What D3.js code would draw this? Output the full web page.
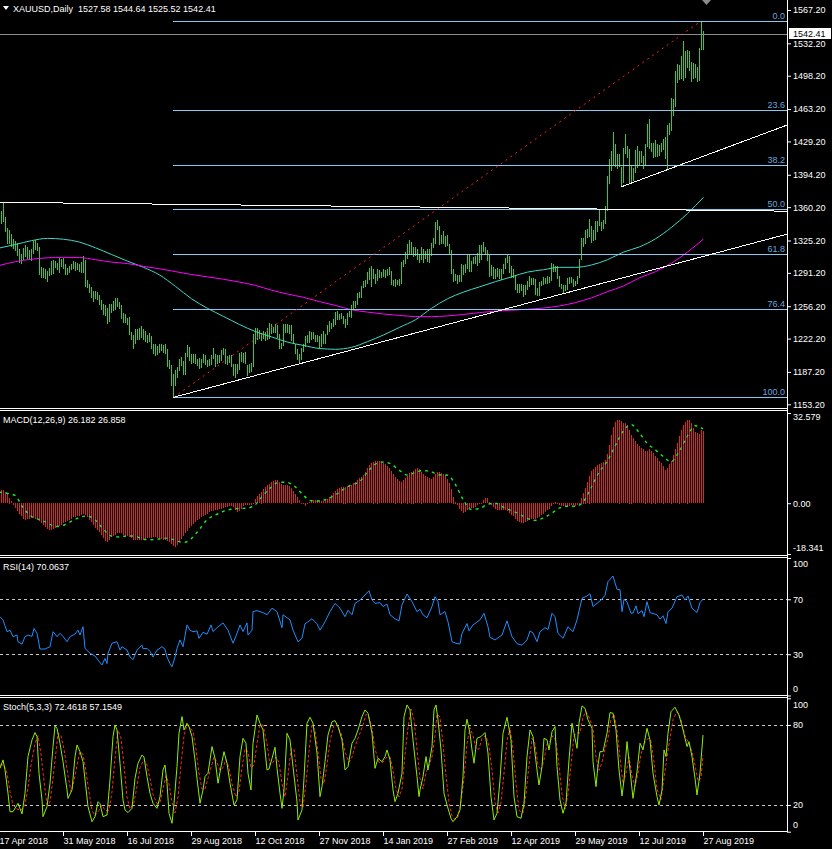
<!DOCTYPE html>
<html><head><meta charset="utf-8">
<script src="https://cdn.jsdelivr.net/npm/d3@7"></script>
<style>
body{margin:0;background:#000;}
svg{display:block;}
text{font-family:"Liberation Sans",Arial,sans-serif;font-size:9px;fill:#fff;white-space:pre;}
</style></head>
<body><svg id="c" width="832" height="849"></svg>
<script>
// ---------------- DATA ----------------
const symbolInfo = "XAUUSD,Daily";
const lastOHLC = [1527.58, 1544.64, 1525.52, 1542.41];
const bidPrice = 1542.41;

// daily highs / lows, bar 0 = 17 Apr 2018 ... bar 352 = 27 Aug 2019
const highs = [
1351,1356,1366,1350,
1338,1336,1332,1327,1325, 1323,1316,1311,1317,1320, 1318,1315,1316,1325,1326, 1323,1318,1297,1296,1295,
1293,1296,1304,1305,1304, 1302,1307,1306,1307,1301, 1296,1298,1301,1304,1303, 1302,1300,1303,1309,1305,
1284,1280,1276,1272,1272, 1271,1268,1263,1258,1257, 1254,1259,1258,1262,1265, 1265,1261,1257,1249,1248,
1244,1245,1229,1226,1232, 1232,1233,1235,1232,1230, 1226,1228,1225,1217,1216, 1214,1217,1217,1215,1216,
1211,1200,1194,1185,1189, 1192,1201,1203,1199,1207, 1215,1213,1206,1206,1206, 1201,1202,1201,1206,1205,
1200,1201,1205,1212,1206, 1205,1205,1210,1212,1211, 1204,1205,1205,1196,1196, 1195,1207,1208,1207,1208,
1194,1196,1197,1227,1233, 1233,1231,1228,1230,1229, 1233,1239,1238,1234,1237, 1236,1227,1218,1237,1237,
1237,1236,1236,1227,1217, 1211,1206,1212,1217,1225, 1226,1230,1229,1229,1226, 1226,1225,1227,1230,1227,
1236,1241,1239,1243,1250, 1251,1248,1249,1246,1243, 1249,1251,1257,1262,1262, 1270,1271,1277,1283,1284,
1292,1296,1298,
1295,1290,1295,1294,1292, 1295,1294,1295,1297,1293, 1284,1285,1284,1285,1303, 1305,1313,1321,1326,1324,
1318,1318,1316,1311,1318, 1316,1314,1316,1316,1323, 1328,1345,1347,1340,1331, 1335,1330,1331,1322,1315,
1295,1290,1289,1289,1300, 1299,1300,1311,1311,1304, 1308,1309,1312,1320,1320, 1324,1318,1315,1310,1299,
1297,1295,1296,1295,1295, 1301,1307,1310,1309,1298,
1295,1289,1279,1279,
1279,1278,1278,1283,1288, 1286,1286,1285,1275,1282, 1283,1287,1286,1288,1287, 1302,1300,1298,1298,1288,
1280,1278,1278,1286,1287, 1287,1285,1283,1288,1306, 1328,1328,1336,1337,1348, 1340,1336,1346,1346,1358,
1345,1347,1361,1393,1411, 1419,1439,1426,1416,1416, 1402,1422,1437,1424,1421, 1403,1401,1420,1424,1419,
1419,1414,1427,1447,1453, 1428,1428,1431,1427,1425, 1428,1432,1434,1446,1449, 1475,1474,1503,1510,1509,
1519,1535,1524,1525,1524, 1513,1512,1510,1507,1527,
1555.6,1544.64
];
const lows = [
1340,1343,1345,1334,
1322,1322,1318,1316,1314, 1309,1302,1301,1305,1308, 1306,1305,1304,1311,1315, 1314,1289,1286,1286,1285,
1282,1288,1289,1290,1296, 1294,1291,1297,1295,1289, 1289,1291,1294,1295,1293, 1294,1292,1291,1291,1276,
1275,1270,1265,1261,1264, 1263,1257,1252,1247,1246, 1238,1240,1249,1251,1252, 1255,1253,1243,1239,1239,
1236,1226,1221,1211,1217, 1221,1221,1223,1221,1219, 1218,1219,1211,1206,1204, 1205,1207,1209,1207,1206,
1192,1190,1172,1160.4,1172, 1181,1188,1193,1184,1184, 1203,1199,1196,1197,1196, 1193,1190,1191,1197,1194,
1192,1193,1194,1201,1192, 1195,1197,1199,1205,1195, 1194,1197,1192,1183,1181, 1185,1189,1198,1197,1196,
1183,1186,1187,1192,1216, 1221,1222,1220,1222,1220, 1221,1222,1227,1228,1228, 1223,1211,1211,1214,1228,
1228,1227,1220,1216,1206, 1200,1196,1200,1208,1213, 1218,1218,1221,1222,1219, 1219,1211,1213,1217,1217,
1226,1229,1232,1234,1236, 1242,1242,1243,1238,1233, 1236,1245,1244,1253,1254, 1257,1265,1265,1275,1276,
1279,1284,1276,
1285,1280,1283,1286,1286, 1287,1286,1288,1289,1278, 1277,1276,1278,1277,1280, 1297,1300,1306,1311,1310,
1308,1309,1305,1302,1305, 1302,1306,1303,1302,1309, 1317,1322,1336,1320,1321, 1322,1318,1319,1310,1290,
1282,1283,1280,1282,1282, 1289,1291,1295,1292,1292, 1300,1300,1298,1302,1305, 1313,1311,1304,1287,1288,
1285,1285,1287,1285,1284, 1290,1295,1302,1291,1286,
1286,1273,1270,1270,
1272,1266,1268,1273,1276, 1278,1278,1268,1267,1267, 1277,1278,1279,1280,1281, 1283,1292,1292,1285,1276,
1274,1270,1272,1273,1280, 1281,1276,1277,1279,1286, 1305,1318,1321,1328,1329, 1323,1325,1326,1334,1340,
1335,1337,1342,1356,1385, 1398,1403,1402,1400,1402, 1381.4,1386,1416,1412,1386, 1386,1388,1396,1401,1403,
1407,1400,1403,1423,1421, 1418,1412,1413,1413,1414, 1418,1420,1411,1400,1436, 1440,1456,1465,1491,1494,
1495,1493,1496,1506,1503, 1492,1495,1496,1492,1493,
1525,1525.52
];

// moving averages read every 8 bars (bars 0,8,...,352)
const maStep = 8;
const maFast = [1317.3,1321,1325,1327.4,1326.5,1323.5,1317.5,1310.5,1303.5,1297,1289,1277,1264,1254,1245.5,1237,1229.5,1224,1218.5,1215,1211.8,1211,1213,1219,1226,1234,1242,1254,1264,1271,1276.5,1282,1287,1292,1294.5,1297,1297,1299.5,1305,1313,1318.5,1327,1339,1353.5,1370.5];
const maSlow = [1299,1303,1305.5,1307,1307.5,1307.3,1305,1302.5,1301,1298,1295.5,1292.5,1289.5,1287,1284.5,1281.5,1278,1273,1269,1265.5,1261,1257,1252.5,1250,1248,1246.5,1245.3,1245.2,1246,1247.5,1249.5,1251,1252,1253,1254.3,1256.5,1260,1265,1271.5,1277.5,1286,1292.5,1301.5,1313,1326.8];

// Fibonacci retracement
const fibLevels = [0, 23.6, 38.2, 50, 61.8, 76.4, 100];
const fibHighBar = 351, fibHigh = 1555.6, fibLowBar = 87, fibLow = 1160.4;

// trend lines [bar, price] -> [bar, price]
const trendLines = [
  {a:[87,1160.4], b:[352,1308.4], left:false},
  {a:[311,1381.4], b:[352,1413.5], left:false},
  {a:[0,1365.3], b:[352,1357.0], left:true}
];

const priceTicks = [1567.20,1532.20,1498.20,1463.20,1429.20,1394.20,1360.20,1325.20,1291.20,1256.20,1222.20,1187.20,1153.20];

// MACD histogram, one value per bar
const macdMain = [
5.0,4.8,4.8,4.0,3.2,2.0,0.8,-0.6,-1.8,-2.8,
-3.8,-4.8,-5.6,-6.0,-5.8,-5.6,-5.5,-5.4,-5.6,-5.8,
-6.4,-7.2,-8.0,-8.8,-9.4,-9.6,-9.6,-9.4,-9.0,-8.7,
-8.4,-7.8,-7.2,-6.8,-6.4,-6.0,-5.6,-5.2,-5.0,-4.8,
-4.6,-4.3,-4.0,-4.4,-5.2,-6.0,-7.0,-8.0,-9.0,-9.8,
-10.6,-11.6,-12.6,-13.6,-14.2,-13.4,-12.4,-11.8,-11.4,-11.0,
-10.8,-11.0,-11.4,-11.8,-12.0,-12.4,-12.8,-13.2,-13.4,-13.4,
-13.3,-13.2,-13.2,-13.0,-12.8,-12.8,-12.6,-12.4,-12.4,-12.6,
-12.8,-13.0,-13.2,-13.4,-13.6,-14.0,-14.8,-15.6,-15.9,-15.0,
-14.0,-13.0,-12.0,-11.0,-10.0,-9.2,-8.4,-7.6,-6.8,-6.2,
-5.6,-5.0,-4.6,-4.2,-3.8,-3.4,-3.0,-2.8,-2.6,-2.4,
-2.2,-2.0,-1.8,-1.6,-1.4,-1.2,-1.2,-1.6,-2.6,-3.4,
-3.0,-2.0,-1.2,-0.8,-0.6,-0.6,-0.8,0.2,1.6,2.6,
3.4,4.2,5.0,5.8,6.4,7.0,7.6,8.0,8.4,8.4,
7.6,6.8,6.4,6.4,6.4,6.2,5.6,4.4,3.4,2.2,
1.0,0.2,-0.4,-1.0,-0.4,0.4,0.8,1.0,1.2,1.2,
1.0,0.8,0.8,1.0,1.6,2.2,2.8,3.6,4.4,5.0,
5.4,5.8,6.0,6.0,6.2,6.4,6.6,7.2,7.8,8.4,
9.0,9.4,10.2,11.2,12.6,13.8,14.6,15.0,15.2,15.4,
15.2,14.8,14.4,14.0,13.4,12.6,11.6,10.6,9.6,8.8,
8.0,7.8,8.4,9.2,10.0,10.8,11.4,11.8,12.2,12.6,
12.2,11.4,10.4,9.8,9.4,9.0,8.8,9.4,10.6,11.4,
11.2,10.8,10.4,10.2,8.6,7.2,5.0,2.4,0.6,-0.6,
-2.0,-3.0,-3.6,-3.2,-2.6,-2.0,-1.8,-1.8,-1.4,-0.8,
-0.4,0.2,1.2,1.8,1.8,0.6,-0.6,-1.4,-2.0,-2.4,
-2.6,-2.6,-2.4,-2.6,-3.0,-3.6,-4.2,-4.8,-5.6,-6.4,
-7.0,-7.2,-7.2,-7.0,-6.6,-6.2,-5.8,-5.6,-5.6,-5.4,
-5.0,-4.4,-3.8,-3.2,-2.6,-2.0,-1.2,-0.4,0.6,0.2,
-0.6,-1.0,-1.2,-1.2,-1.2,-1.0,-0.8,-0.8,-1.0,-0.8,
0.2,2.0,3.8,5.6,7.6,10.0,11.6,12.4,13.0,13.8,
14.2,14.4,14.8,15.6,17.8,21.0,24.6,27.4,29.2,30.0,
30.2,29.6,29.0,29.0,28.2,26.6,24.8,23.4,22.4,21.4,
20.6,20.0,19.6,19.0,18.8,19.4,19.0,18.2,17.2,16.2,
15.2,14.4,13.6,12.0,12.8,14.0,15.4,17.4,19.6,21.8,
24.4,26.4,28.2,29.4,30.2,30.0,28.8,27.2,25.8,25.2,
25.0,26.4,26.182
];
// MACD signal read every 4 bars
const sigStep = 4;
const macdSignal = [4.0,3.6,2.8,-1.6,-4.6,-5.9,-7.0,-8.4,-8.0,-6.6,
-5.2,-4.6,-6.0,-9.2,-11.8,-12.2,-11.8,-11.9,-13.0,-13.2,
-12.9,-12.6,-13.3,-14.2,-12.9,-9.6,-6.0,-4.3,-3.0,-2.2,
-1.9,-1.8,-0.6,2.8,5.7,7.6,7.5,6.0,3.0,0.9,
0.8,1.5,2.9,4.9,6.6,7.6,11.0,14.0,14.9,14.2,
12.0,10.2,11.0,11.8,11.4,10.2,10.2,7.0,1.4,-2.2,
-2.0,-0.5,0.0,-1.4,-2.6,-3.8,-5.5,-6.2,-5.4,-3.8,
-1.8,-1.1,-1.1,0.4,5.5,11.2,15.0,20.6,25.9,28.4,
25.6,21.7,19.4,16.9,15.0,18.6,24.0,28.0,26.858];
const macdTicks = [32.579, 0, -18.341];
const macdTickLabels = ["32.579","0.00","-18.341"];

// RSI(14) [bar, value]
const rsiPts = [[0.5,57.3],[2,55],[4,46.4],[5.5,47.5],[7,42.8],[9,44],[9.5,39.1],[11.5,37.4],[13,42.8],[14.5,44],[16.5,43],[17.5,48.8],[19,45.2],[20.5,33.8],[23,33.8],[25.5,35.5],[27,46.4],[29,42.8],[30.5,45.2],[32,43],[34,39.1],[35.5,42.8],[38,44.7],[39.5,47.5],[40.5,44],[42,50],[43,34.3],[45.5,30.7],[48,28.7],[49.5,25.8],[51.5,22.2],[53,26.9],[54,23.2],[54.5,30.7],[56.5,38],[59,39.1],[60.5,33],[61.5,35.5],[64,33],[65.5,28],[67,26.1],[69,33],[71.5,36.6],[72,34],[74,34.3],[75.5,32.1],[77,28],[79,33],[81.5,35.5],[83,33.7],[84,28],[85.5,23.2],[86.5,20.9],[88,28],[89,34.3],[90.5,40.4],[92,35.5],[94,51.3],[95.5,47.5],[97,46.4],[99,47],[100,41.6],[102,46],[104,44.5],[106,51.3],[107,46.5],[109.5,50],[112,52.8],[114.5,47.5],[117,38],[119,45.2],[120.5,51.3],[122,46.5],[124,52.8],[124.5,44],[126.5,47.5],[127,61],[129,61.7],[132,60.3],[134,58.7],[136.5,63.5],[139,61],[141.5,49.3],[142,58.7],[145.5,55],[147,47.5],[149.5,39.1],[151.5,41.6],[153,52.1],[156.5,55.8],[159,52.1],[160.5,47.5],[163,53.6],[165.5,61],[168,67],[170.5,63.5],[173,57.3],[174.5,62],[176.5,58.7],[178,67],[180.5,69.4],[183,73.1],[185,76.2],[186.5,69.4],[188,67],[190.5,67.5],[192,64.7],[194,66.5],[195.5,58.7],[198,55.8],[200,54.3],[201.5,66],[204,73.8],[206.5,68.2],[209,61],[210.5,62.7],[212,58.7],[214,56.5],[216.5,64.7],[218,71.9],[219.5,68.2],[220.5,58.7],[223,61],[224.5,53.6],[226.5,39.1],[229,37.7],[230.5,37.5],[231.5,45.2],[234,52.3],[235,47],[237,51.3],[240.5,55],[242.5,59.8],[244.5,50],[245.5,42.3],[248,40.4],[251.5,44],[254,54.3],[256.5,42.8],[259,37.7],[261.5,36.6],[264,40.4],[265.5,46.9],[267,45.5],[269,39.1],[270.5,46.4],[273,49.3],[274.5,48],[276.5,59.8],[278,57.3],[279.5,45.2],[282,41.6],[284.5,50],[287,46.4],[289,55],[291.5,70.7],[294,72.4],[295.5,74],[297,64.7],[299,67],[301.5,70.1],[303,72.9],[304.5,82.8],[307,86.9],[309,77.2],[310.5,77],[311.5,61],[312.5,69.9],[314,68.2],[316,59.8],[317,60],[318.5,65.2],[319.5,59.5],[321.5,61.7],[322.5,57.3],[324,68.2],[325.5,60.3],[329,58.7],[330.5,55.5],[332,58],[333.5,52.3],[334.5,61],[336.5,63.5],[339,71.9],[341.5,73.1],[343,69.4],[344.5,72.4],[346.5,63.5],[349,60.3],[350.5,67.6],[352,70.0637]];
const rsiLevels = [70, 30];
const rsiTicks = [100, 70, 30, 0];

// Stochastic(5,3,3) %K and %D [bar, value]
const stochK = [[0.5,47.5],[2,53.8],[3,46.3],[4.5,28.8],[5.5,15],[7,15],[9.5,21.3],[11.5,13.3],[13,28.8],[14.5,56.3],[16.5,68.8],[18,74.3],[19,71.3],[20,43.8],[21.5,23.8],[22,11.3],[24,18.8],[25.5,36.3],[27,63.8],[28,79.3],[29,77.5],[30.5,66.3],[32,52.5],[34,31.3],[34.5,25],[36.5,31.3],[38,56.3],[39,65],[40.5,60],[42,52.5],[43.5,32.5],[44.5,18.8],[46.5,7.5],[48,11.3],[49.5,22.5],[50.5,21],[52,11.3],[54,12.5],[55.5,38.8],[57,71.3],[58,80],[59,76.3],[60.5,51.3],[62,23.8],[63,16.3],[64.5,14.3],[66.5,17.5],[68,40],[69.5,51.3],[71.5,57.5],[72.5,56],[74,41.3],[75.5,28.8],[77,21.3],[79,17.5],[80.5,26.3],[82,46.3],[83,50],[84,36.3],[85,13.8],[86.5,6.3],[87.5,21.3],[89,48.8],[90,73.8],[91.5,86.3],[92.5,76.3],[94,81.3],[95,78.8],[96.5,71.3],[98,53.8],[99,40],[100.5,21.3],[102,31.3],[103,41.3],[104.5,43.8],[106.5,63.8],[108,55],[109.5,36.3],[111,48.8],[112.5,60],[114,51.3],[115.5,36.3],[117.5,20],[119,23.8],[120.5,56.3],[122,70],[123.5,66.3],[124.5,43.8],[126,31.3],[127,66.3],[129,87.5],[130.5,81.3],[132,76.3],[134,46.3],[135,47],[136.5,55],[138,63.3],[139,47.5],[140.5,28.8],[141.5,17.5],[142.5,31.3],[144,73.8],[145.5,68.8],[147,48.8],[149,22.5],[149.5,8.8],[151.5,16.3],[152.5,40],[154,81.3],[155.5,85.8],[157,81.3],[159,58.8],[160.5,26.3],[161.5,33.8],[163,52.5],[164.5,72.5],[166.5,82.5],[168,83.3],[169.5,78.8],[171.5,68.8],[173,46.3],[174.5,48.8],[176.5,66.3],[178,70],[179.5,76.3],[181.5,86.3],[183,91.3],[184.5,88.8],[186.5,73.8],[188,47.5],[189.5,55],[191.5,52.5],[193,56.3],[194,61.3],[195.5,53.8],[197,31.3],[198,22.5],[199.5,28.8],[201.5,43.8],[202.5,86.3],[204,95],[205.5,91.3],[207,68.8],[209,41.3],[210,26.3],[210.5,31.3],[212,41.3],[213.5,56.3],[214.5,46.3],[216.5,63.8],[217.5,91.3],[218.5,95],[219.5,83.8],[221,61.3],[222.5,28.8],[224,20],[226,10],[227,7.5],[229,11.3],[230.5,16.3],[232,41.3],[233,76.3],[234,84.3],[235.5,73.8],[236.5,61.3],[237.5,51.3],[239,70],[241,71.3],[243,74.3],[244.5,58.8],[246,26.3],[247.5,8.8],[249,13.8],[250.5,38.8],[252,73.8],[254,85.8],[256,68.8],[257.5,26.3],[259,11.3],[261,10],[262.5,21.3],[264,56.3],[265.5,76.3],[267,71.3],[269,46.3],[270,35],[271.5,48.8],[272.5,70],[274,68.8],[275,61.3],[276.5,75],[278,78.8],[279,48.8],[280.5,23.8],[282,13.8],[283.5,21.3],[285,53.8],[286.5,81.3],[287.5,73.8],[289,62.5],[290,81.3],[291.5,94.3],[293,92.5],[294.5,83.8],[296.5,77.5],[297,52.5],[298.5,33.8],[299.5,50],[300.5,60],[302,60],[304,73.8],[305.5,89.3],[307,88.8],[308.5,76.3],[310,46.3],[311.5,26.8],[312.5,38.8],[314,67.5],[315.5,46.3],[317,25],[319,45],[320.5,66.3],[322,61.3],[324,77.5],[325.5,68.8],[327,43.8],[329,26.3],[330,20],[331.5,31.3],[332.5,61.3],[333.5,56.3],[334.5,73.8],[336,90],[338,93.3],[340,87.5],[342,76.3],[344,63.8],[345,67.5],[346.5,56.3],[348,40],[349,27.5],[350.5,43.8],[352,72.4618]];
const stochD = [[0.5,50],[2.5,50],[4,44],[5.5,30],[7,20],[9,17],[11,16],[13,20],[14.5,33],[16,50],[18,66],[19.5,72],[21,58],[22.5,38],[24,20],[25.5,22],[27,40],[28.5,60],[29.5,74],[31,72],[32.5,62],[34.5,42],[36,30],[37.5,38],[39,50],[40.5,60],[42,58],[43.5,45],[45,30],[46.5,16],[48,12],[50,16],[51.5,20],[53,16],[55,16],[56.5,30],[58,55],[59.5,76],[61,70],[62.5,50],[64,26],[65.5,17],[67.5,22],[69,34],[70.5,48],[72.5,54],[74,50],[75.5,40],[77,28],[79,21],[80.5,22],[82,32],[83.5,42],[85,36],[86.5,22],[88,14],[89.5,26],[91,50],[92.5,72],[94,80],[95.5,78],[97,75],[98.5,62],[100,44],[101.5,32],[103,32],[104.5,40],[106,48],[107.5,56],[109,52],[110.5,46],[112,48],[113.5,54],[115,48],[116.5,36],[118.5,26],[120,30],[121.5,48],[123,62],[124.5,60],[126,48],[127.5,50],[129,66],[130.5,80],[132,80],[134,66],[135.5,50],[137,52],[138.5,56],[140,52],[141.5,36],[143,26],[144.5,42],[146,62],[147.5,62],[149,42],[150.5,22],[152,18],[153.5,36],[155,60],[156.5,80],[158,76],[159.5,60],[161,40],[162.5,36],[164,50],[165.5,68],[167.5,80],[169,80],[171,74],[173,60],[175,52],[176.5,56],[178,64],[180,72],[182,80],[183.5,88],[185,86],[186.5,78],[188,62],[190,52],[192,52],[194,56],[195.5,56],[197,46],[198.5,32],[200,26],[201.5,32],[203,58],[204.5,78],[206,92],[207.5,84],[209,62],[210.5,40],[212,32],[213.5,44],[215,50],[216.5,56],[218,72],[219,88],[220.5,86],[222,66],[223.5,42],[225,22],[226.5,12],[228,9],[229.5,11],[231,22],[232.5,40],[234,66],[235.5,78],[237,72],[238.5,62],[240,62],[241.5,70],[243.5,72],[245,64],[246.5,46],[248,22],[249.5,14],[251,22],[252.5,44],[254,68],[255.5,78],[257,62],[258.5,36],[260,16],[262,14],[263.5,28],[265,50],[266.5,70],[268,66],[269.5,50],[271,46],[272.5,54],[274,66],[275.5,68],[277,72],[278.5,68],[280,50],[281.5,28],[283,17],[284.5,28],[286,50],[287.5,72],[289,74],[290.5,74],[292,86],[293.5,90],[295,86],[297,78],[298.5,56],[300,46],[301.5,52],[303,62],[304.5,70],[306,84],[307.5,88],[309,76],[310.5,56],[312,36],[313.5,44],[315,56],[316.5,42],[318,34],[319.5,44],[321,58],[322.5,66],[324.5,70],[326,68],[327.5,52],[329,32],[331,24],[332.5,40],[334,56],[335.5,70],[337,84],[339,90],[341,84],[343,72],[345,66],[346.5,60],[348,50],[349.5,38],[351,40],[352,57.1549]];
const stochLevels = [80, 20];
const stochTicks = [100, 80, 20, 0];

const dateBars = [0,32,64,96,128,160,192,224,256,288,320,352];
const dateLabels = ["17 Apr 2018","31 May 2018","16 Jul 2018","29 Aug 2018","12 Oct 2018","27 Nov 2018","14 Jan 2019","27 Feb 2019","12 Apr 2019","29 May 2019","12 Jul 2019","27 Aug 2019"];

// ---------------- DRAW ----------------
const svg = d3.select('#c');
svg.append('rect').attr('width',832).attr('height',849).attr('fill','#000');
const AX = 787; // right axis x

const x = d3.scaleLinear().domain([0,352]).range([-1,703]);
const yP = d3.scaleLinear().domain([1153.2,1567.2]).range([404.3,10]);
const yM = d3.scaleLinear().domain([-18.341,32.579]).range([554,413]);
const yR = d3.scaleLinear().domain([0,100]).range([695.5,558]);
const yS = d3.scaleLinear().domain([0,100]).range([831.7,698.3]);

// price bars (no clipping: all inside panel)
svg.append('g').selectAll('rect').data(highs).join('rect')
  .attr('x',(d,i)=>Math.round(x(i))).attr('width',1)
  .attr('y',d=>Math.round(yP(d)))
  .attr('height',(d,i)=>Math.max(1,Math.round(yP(lows[i]))-Math.round(yP(d))))
  .attr('fill','#32cd32').attr('shape-rendering','crispEdges');

// moving averages
const maLine = d3.line().x((d,i)=>x(i*maStep)+0.5).y(d=>yP(d)).curve(d3.curveMonotoneX);
svg.append('path').attr('d',maLine(maFast)).attr('fill','none').attr('stroke','#40d8c8').attr('stroke-width',1);
svg.append('path').attr('d',maLine(maSlow)).attr('fill','none').attr('stroke','#ff00ff').attr('stroke-width',1);

// fib levels
fibLevels.forEach(l=>{
  const p = fibHigh-(fibHigh-fibLow)*l/100;
  const yy = Math.round(yP(p))+0.5;
  svg.append('line').attr('x1',x(fibLowBar)).attr('x2',AX).attr('y1',yy).attr('y2',yy)
    .attr('stroke','#87c8ee').attr('stroke-width',1);
  svg.append('text').attr('x',785).attr('y',yy-2.5).attr('text-anchor','end')
    .style('fill','#6aa6dc').text(d3.format('.1f')(l));
});
// fib trend (red dotted)
svg.append('line').attr('x1',x(fibLowBar)+0.5).attr('y1',yP(fibLow)).attr('x2',x(fibHighBar)).attr('y2',yP(fibHigh))
  .attr('stroke','#ff2020').attr('stroke-width',1).attr('stroke-dasharray','2,4');

// trend lines
const barAtX = v => x.invert(v);
trendLines.forEach(t=>{
  const slope = (t.b[1]-t.a[1])/(t.b[0]-t.a[0]);
  const b0 = t.left ? barAtX(0) : t.a[0];
  const b1 = barAtX(AX);
  svg.append('line').attr('x1',x(b0)).attr('y1',yP(t.a[1]+slope*(b0-t.a[0])))
    .attr('x2',x(b1)).attr('y2',yP(t.a[1]+slope*(b1-t.a[0])))
    .attr('stroke','#fff').attr('stroke-width',1).attr('shape-rendering','crispEdges');
});
// bid line
const yBid = Math.round(yP(bidPrice))+0.5;
svg.append('line').attr('x1',0).attr('x2',AX).attr('y1',yBid).attr('y2',yBid).attr('stroke','#8c8c8c');

// MACD histogram
svg.append('g').selectAll('rect').data(macdMain).join('rect')
  .attr('x',(d,i)=>Math.round(x(i))).attr('width',1)
  .attr('y',d=>Math.round(d>=0?yM(d):yM(0))).attr('height',d=>Math.max(1,Math.round(Math.abs(yM(d)-yM(0)))))
  .attr('fill','#e42222').attr('shape-rendering','crispEdges');
const sigLine = d3.line().x((d,i)=>x(i*sigStep)).y(d=>yM(d)).curve(d3.curveMonotoneX);
svg.append('path').attr('d',sigLine(macdSignal)).attr('fill','none').attr('stroke','#1ee81e')
  .attr('stroke-width',1.4).attr('stroke-dasharray','3,4');

// RSI
rsiLevels.forEach(l=>{ const yy=Math.round(yR(l))+0.5;
  svg.append('line').attr('x1',0).attr('x2',AX).attr('y1',yy).attr('y2',yy).attr('stroke','#c8c8c8').attr('stroke-dasharray','3,3'); });
const ptLine = (ys)=>d3.line().x(d=>x(d[0])).y(d=>ys(d[1]));
svg.append('path').attr('d',ptLine(yR)(rsiPts)).attr('fill','none').attr('stroke','#1e8fff').attr('stroke-width',1);

// Stochastic
stochLevels.forEach(l=>{ const yy=Math.round(yS(l))+0.5;
  svg.append('line').attr('x1',0).attr('x2',AX).attr('y1',yy).attr('y2',yy).attr('stroke','#c8c8c8').attr('stroke-dasharray','3,3'); });
svg.append('path').attr('d',ptLine(yS)(stochD)).attr('fill','none').attr('stroke','#ff2525').attr('stroke-width',1).attr('stroke-dasharray','3,2');
svg.append('path').attr('d',ptLine(yS)(stochK)).attr('fill','none').attr('stroke','#8eef00').attr('stroke-width',1);

// frames
const frame = svg.append('g').attr('stroke','#fff').attr('stroke-width',1).attr('shape-rendering','crispEdges');
[408.5,410.5,555.5,557.5,695.5,697.5,831.5].forEach(yy=>frame.append('line').attr('x1',0).attr('x2',AX+1).attr('y1',yy).attr('y2',yy));
frame.append('line').attr('x1',AX+0.5).attr('x2',AX+0.5).attr('y1',0).attr('y2',832);

// right axes
function rightAxis(scale, vals, labels, offs){
  const g = svg.append('g').attr('transform',`translate(${AX},0)`);
  g.call(d3.axisRight(scale).tickValues(vals).tickFormat((d,k)=>labels[k]).tickSize(4).tickPadding(2));
  g.select('.domain').remove();
  g.selectAll('.tick line').attr('stroke','#fff');
  g.selectAll('.tick text').attr('fill','#fff').style('font-size','9px')
    .style('font-family','"Liberation Sans",Arial,sans-serif')
    .attr('transform',(d,k)=>`translate(0,${offs?offs[k]:0})`);
  return g;
}
rightAxis(yP, priceTicks, priceTicks.map(d3.format('.2f')));
rightAxis(yM, macdTicks, macdTickLabels, [4,0,-6]);
rightAxis(yR, rsiTicks, rsiTicks.map(String), [6,0,0,-7]);
rightAxis(yS, stochTicks, stochTicks.map(String), [6,0,0,-7]);

// bid label
svg.append('rect').attr('x',789).attr('y',28).attr('width',42).attr('height',11).attr('fill','#fff');
svg.append('text').attr('x',793).attr('y',37).style('fill','#000').text(d3.format('.2f')(bidPrice));

// bottom axis
const gx = svg.append('g').attr('transform','translate(0,832)');
gx.call(d3.axisBottom(x).tickValues(dateBars).tickFormat((d,k)=>dateLabels[k]).tickSize(4).tickPadding(2));
gx.select('.domain').remove();
gx.selectAll('.tick line').attr('stroke','#fff');
gx.selectAll('.tick text').attr('fill','#fff').attr('text-anchor','start').attr('x',0).attr('y',6)
  .style('font-size','9px').style('font-family','"Liberation Sans",Arial,sans-serif');

// headers
const lastK = stochK[stochK.length-1][1], lastD = stochD[stochD.length-1][1];
const lastSig = macdSignal[macdSignal.length-1], lastRsi = rsiPts[rsiPts.length-1][1];
svg.append('path').attr('d','M3,6 L9,6 L6,10 Z').attr('fill','#fff');
svg.append('text').attr('x',13).attr('y',12).text(symbolInfo+'  '+lastOHLC.map(d3.format('.2f')).join(' '));
svg.append('text').attr('x',3).attr('y',423).text('MACD(12,26,9) '+d3.format('.3f')(macdMain[macdMain.length-1])+' '+d3.format('.3f')(lastSig));
svg.append('text').attr('x',3).attr('y',570).text('RSI(14) '+d3.format('.4f')(lastRsi));
svg.append('text').attr('x',3).attr('y',710).text('Stoch(5,3,3) '+d3.format('.4f')(lastK)+' '+d3.format('.4f')(lastD));
// chart shift marker
svg.append('path').attr('d','M702,0 L711,0 L706.5,5 Z').attr('fill','#8c8c8c');
</script></body></html>
